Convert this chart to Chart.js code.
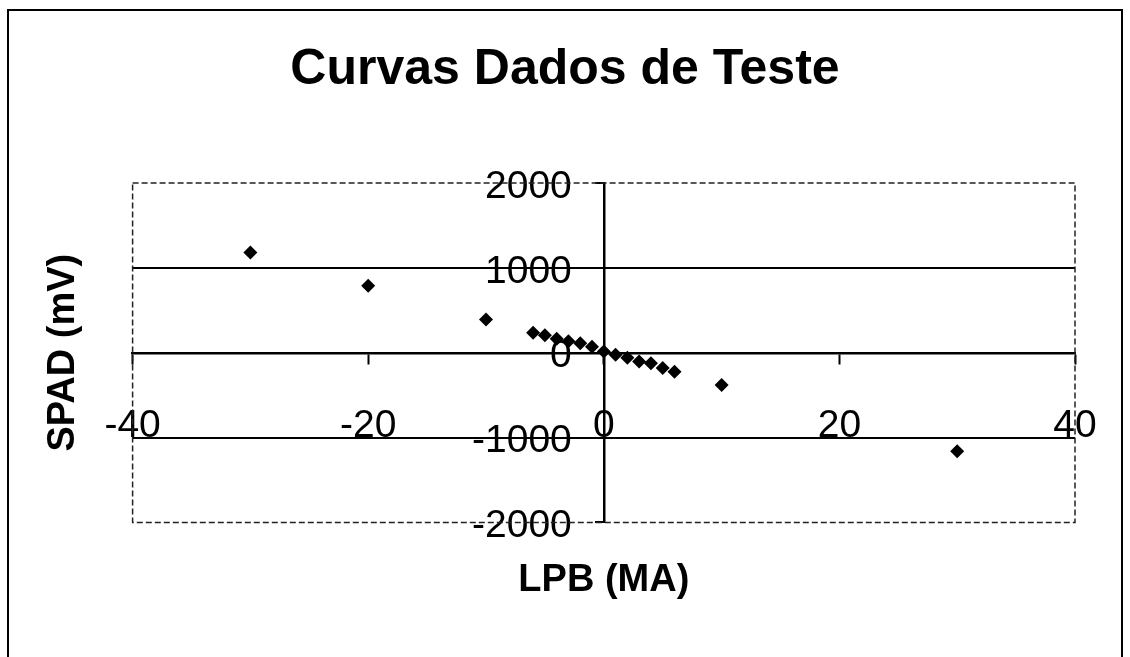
<!DOCTYPE html>
<html>
<head>
<meta charset="utf-8">
<script src="https://cdn.jsdelivr.net/npm/chart.js@4.4.0/dist/chart.umd.min.js"></script>
<style>
  html, body { margin: 0; padding: 0; background: #fff; }
  #wrap { width: 1130px; height: 657px; }
</style>
</head>
<body>
<div id="wrap"><canvas id="chart"></canvas></div>
<script>
// valeurs
var lpb = [-30, -20, -10, -6, -5, -4, -3, -2, -1, 0, 1, 2, 3, 4, 5, 6, 10, 30];
var spad = [1180, 790, 390, 236, 205, 165, 135, 110, 70, 15, -25, -60, -105, -125, -180, -225, -380, -1160];
var xTicks = [-40, -20, 0, 20, 40];
var yTicks = [-2000, -1000, 0, 1000, 2000];

var fontFamily = "'Liberation Sans', Arial, sans-serif";
Chart.defaults.font.family = fontFamily;
Chart.defaults.color = "#000";

// cadre extérieur + bord de la zone de tracé
var frame = {
  id: "frame",
  beforeDraw: function (chart) {
    var ctx = chart.ctx;
    ctx.save();
    ctx.fillStyle = "#fff";
    ctx.fillRect(0, 0, chart.width, chart.height);
    ctx.strokeStyle = "#000";
    ctx.lineWidth = 2;
    ctx.beginPath();
    ctx.moveTo(8, chart.height);
    ctx.lineTo(8, 10);
    ctx.lineTo(1122, 10);
    ctx.lineTo(1122, chart.height);
    ctx.stroke();
    ctx.restore();
  },
  beforeDatasetsDraw: function (chart) {
    var ctx = chart.ctx, a = chart.chartArea;
    ctx.save();
    ctx.strokeStyle = "#222";
    ctx.lineWidth = 1.5;
    ctx.setLineDash([6, 3]);
    ctx.strokeRect(a.left, a.top, a.right - a.left, a.bottom - a.top);
    ctx.restore();
  }
};

// axe vide (sans ticks) pour porter un titre ou réserver de la place
function blankAxis(pos, title, pad) {
  var ax = {
    type: "linear",
    position: pos,
    display: true,
    grid: { display: false, drawTicks: false },
    border: { display: false },
    ticks: { display: false },
  };
  if (title) {
    ax.title = {
      display: true,
      text: title,
      color: "#000",
      font: { size: 38, weight: "bold" },
      padding: pad,
    };
  }
  return ax;
}

var rightSpace = blankAxis("right");
rightSpace.afterFit = function (s) { s.width = 55; };

// les étiquettes des axes centrés ne doivent pas rétrécir la zone
function noPadding(s) {
  s.paddingLeft = 0;
  s.paddingRight = 0;
  s.paddingTop = 0;
  s.paddingBottom = 0;
}

var chart = new Chart(document.getElementById("chart").getContext("2d"), {
  type: "scatter",
  data: {
    datasets: [
      {
        data: lpb.map(function (x, i) { return { x: x, y: spad[i] }; }),
        xAxisID: "x",
        yAxisID: "y",
        pointStyle: "rectRot",
        pointRadius: 7,
        backgroundColor: "#000",
        borderWidth: 0,
      },
    ],
  },
  options: {
    responsive: true,
    maintainAspectRatio: false,
    animation: false,
    layout: {
      padding: { top: 10, right: 0, bottom: 0, left: 0 },
    },
    plugins: {
      legend: { display: false },
      tooltip: { enabled: false },
      title: {
        display: true,
        text: "Curvas Dados de Teste",
        color: "#000",
        font: { size: 50, weight: "bold" },
        padding: { top: 30, bottom: 83 },
      },
    },
    scales: {
      x: {
        type: "linear",
        position: "center",
        min: -40,
        max: 40,
        afterBuildTicks: function (s) {
          s.ticks = xTicks.map(function (v) { return { value: v }; });
        },
        afterFit: noPadding,
        grid: { drawOnChartArea: false, tickLength: 10, tickWidth: 2, tickColor: "#000" },
        border: { color: "#000", width: 2.5 },
        ticks: {
          padding: 40,
          color: "#000",
          font: { size: 39 },
          maxRotation: 0,
          autoSkip: false,
          callback: function (v) { return String(v); },
        },
      },
      y: {
        type: "linear",
        position: "center",
        min: -2000,
        max: 2000,
        afterBuildTicks: function (s) {
          s.ticks = yTicks.map(function (v) { return { value: v }; });
        },
        afterFit: noPadding,
        grid: {
          color: function (c) {
            return c.tick && Math.abs(c.tick.value) === 1000 ? "#000" : "rgba(0,0,0,0)";
          },
          lineWidth: 2,
          tickLength: 8,
          tickWidth: 2,
          tickColor: "#000",
        },
        border: { color: "#000", width: 2.5 },
        ticks: {
          padding: 24,
          labelOffset: 4,
          color: "#000",
          font: { size: 39 },
          autoSkip: false,
          callback: function (v) { return String(v); },
        },
      },
      // axes vides qui portent seulement les titres
      xt: blankAxis("bottom", "LPB (MA)", { top: 35, bottom: 54 }),
      yt: blankAxis("left", "SPAD (mV)", { top: 41, bottom: 46 }),
      yr: rightSpace,
    },
  },
  plugins: [frame],
});
</script>
</body>
</html>
